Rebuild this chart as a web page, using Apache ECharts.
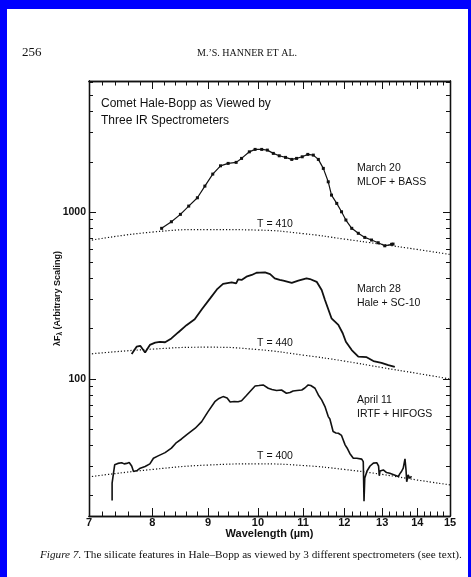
<!DOCTYPE html>
<html>
<head>
<meta charset="utf-8">
<script src="https://cdn.jsdelivr.net/npm/echarts@6/dist/echarts.min.js"></script>
<style>
  html, body { margin: 0; padding: 0; background: #fff; }
  #chart { width: 471px; height: 577px; }
</style>
</head>
<body>
<div id="chart"></div>
<script>
// Wavelength (µm) and lambda*F_lambda (arbitrary scaling) for each spectrum
const wlMarch20 = [8.16, 8.33, 8.49, 8.64, 8.80, 8.94, 9.09, 9.24, 9.39, 9.55, 9.66, 9.82, 9.94, 10.08, 10.20, 10.33, 10.46, 10.60, 10.74, 10.85, 10.98, 11.11, 11.24, 11.36, 11.48, 11.60, 11.68, 11.81, 11.93, 12.04, 12.19, 12.36, 12.53, 12.71, 12.89, 13.07, 13.26, 13.30];
const fluxMarch20 = [799, 875, 969, 1086, 1218, 1431, 1689, 1893, 1957, 1985, 2097, 2296, 2374, 2374, 2351, 2247, 2174, 2126, 2068, 2097, 2144, 2216, 2194, 2068, 1827, 1518, 1264, 1127, 1004, 896, 799, 746, 705, 680, 655, 628, 641, 643];

const wlMarch28 = [7.66, 7.74, 7.80, 7.88, 7.96, 8.05, 8.13, 8.22, 8.33, 8.45, 8.60, 8.75, 8.88, 9.04, 9.17, 9.29, 9.46, 9.55, 9.59, 9.66, 9.76, 9.87, 9.97, 10.04, 10.15, 10.26, 10.36, 10.47, 10.55, 10.74, 10.89, 11.08, 11.16, 11.32, 11.44, 11.52, 11.68, 11.85, 11.96, 12.04, 12.19, 12.36, 12.58, 12.76, 12.98, 13.17, 13.35];
const fluxMarch28 = [141, 156, 158, 144, 160, 165, 167, 166, 175, 190, 210, 228, 261, 304, 344, 371, 379, 374, 395, 392, 410, 420, 433, 434, 435, 425, 401, 392, 388, 376, 388, 401, 397, 382, 341, 297, 231, 211, 188, 167, 149, 136, 135, 128, 125, 121, 118];

const wlApril11 = [7.35, 7.35, 7.37, 7.39, 7.44, 7.50, 7.54, 7.58, 7.62, 7.66, 7.69, 7.72, 7.75, 7.80, 7.88, 7.96, 8.02, 8.10, 8.22, 8.33, 8.42, 8.51, 8.60, 8.76, 8.88, 9.00, 9.13, 9.21, 9.29, 9.37, 9.43, 9.51, 9.59, 9.66, 9.75, 9.83, 9.94, 10.02, 10.11, 10.22, 10.30, 10.40, 10.51, 10.62, 10.70, 10.77, 10.86, 10.97, 11.04, 11.12, 11.18, 11.28, 11.36, 11.44, 11.52, 11.60, 11.64, 11.72, 11.79, 11.85, 11.93, 12.02, 12.07, 12.14, 12.23, 12.32, 12.45, 12.49, 12.51, 12.53, 12.59, 12.67, 12.76, 12.85, 12.90, 12.92, 12.94, 13.03, 13.12, 13.21, 13.30, 13.45, 13.49, 13.54, 13.59, 13.64, 13.67, 13.69, 13.73, 13.78, 13.83];
const fluxApril11 = [18.7, 23.8, 27.0, 30.6, 31.2, 31.5, 31.0, 31.2, 31.6, 30.1, 27.9, 27.6, 28.3, 29.2, 29.9, 31.0, 33.5, 34.6, 36.2, 38.5, 41.6, 43.7, 46.2, 50.7, 55.5, 63.7, 73.1, 76.4, 78.4, 77.0, 72.8, 73.3, 73.1, 74.1, 79.1, 83.9, 90.8, 91.4, 92.1, 88.0, 86.5, 85.3, 85.9, 82.1, 83.0, 84.8, 85.3, 85.9, 88.3, 92.1, 91.4, 88.0, 80.2, 74.9, 68.3, 59.5, 57.6, 48.4, 47.5, 47.3, 45.9, 40.3, 38.6, 35.8, 33.5, 33.5, 33.1, 32.0, 18.5, 25.5, 28.1, 30.1, 31.3, 31.5, 30.1, 26.3, 28.1, 28.5, 27.5, 27.2, 26.8, 26.0, 27.0, 27.9, 29.2, 33.2, 28.5, 24.2, 26.6, 25.4, 26.1];

// Blackbody continua fitted beneath each spectrum
const wlContinuum = [7, 8, 9, 10, 11, 12, 13, 14, 15];
const fluxT410 = [675, 759, 786, 780, 743, 689, 640, 597, 557];
const fluxT440 = [141, 151, 155, 150, 139, 128, 117, 108, 100];
const fluxT400 = [25.9, 28.7, 30.5, 31.0, 30.3, 28.7, 26.8, 24.8, 23.2];

// Axis ticks
const xMajorTicks = [7, 8, 9, 10, 11, 12, 13, 14, 15];
const yMajorTicks = [100, 1000];
const yMinorTicks = [20, 30, 40, 50, 60, 70, 80, 90, 200, 300, 400, 500, 600, 700, 800, 900, 2000, 3000, 4000, 5000, 6000];
const xMinorTicks = [];
for (let i = 36; i < 75; i++) {
  if (i % 5 !== 0) xMinorTicks.push(i / 5);
}

const LOG = Math.log10;
const X_MIN = 7, X_MAX = 15, Y_MIN = 15.1, Y_MAX = 6100;
const INK = '#111';
const SANS = '"Liberation Sans", Arial, Helvetica, sans-serif';
const SERIF = '"Liberation Serif", "Times New Roman", serif';

function pairs(xs, ys) {
  return xs.map((x, i) => [LOG(x), LOG(ys[i])]);
}

function xAxisDef(position, ticks, len, withLabels) {
  const ax = {
    type: 'value', position: position, min: LOG(X_MIN), max: LOG(X_MAX),
    splitLine: { show: false },
    axisLine: { show: true, onZero: false, lineStyle: { color: INK, width: 1.3 } },
    axisTick: { show: true, inside: true, length: len, customValues: ticks.map(LOG),
                lineStyle: { color: INK, width: 1 } },
    axisLabel: { show: false }
  };
  if (withLabels) {
    ax.axisLabel = {
      show: true, customValues: ticks.map(LOG), margin: 1,
      formatter: v => String(Math.round(Math.pow(10, v))),
      color: INK, fontSize: 11, fontWeight: 'bold', fontFamily: SANS
    };
    ax.name = 'Wavelength (µm)';
    ax.nameLocation = 'middle';
    ax.nameGap = 12;
    ax.nameMoveOverlap = false;
    ax.nameTextStyle = { color: INK, fontSize: 11, fontWeight: 'bold', fontFamily: SANS };
  }
  return ax;
}

function yAxisDef(position, ticks, len, withLabels) {
  const ax = {
    type: 'value', position: position, min: LOG(Y_MIN), max: LOG(Y_MAX),
    splitLine: { show: false },
    axisLine: { show: true, onZero: false, lineStyle: { color: INK, width: 1.3 } },
    axisTick: { show: true, inside: true, length: len, customValues: ticks.map(LOG),
                lineStyle: { color: INK, width: 1 } },
    axisLabel: { show: false }
  };
  if (withLabels) {
    ax.axisLabel = {
      show: true, customValues: ticks.map(LOG), margin: 3,
      formatter: v => String(Math.round(Math.pow(10, v))),
      color: INK, fontSize: 10.5, fontWeight: 'bold', fontFamily: SANS
    };
    ax.name = '{a|λF}{s|λ}{a| (Arbitrary Scaling)}';
    ax.nameLocation = 'middle';
    ax.nameGap = 25;
    ax.nameMoveOverlap = false;
    ax.nameTextStyle = {
      color: INK, fontFamily: SANS,
      rich: {
        a: { fontSize: 9, fontWeight: 'bold', fontFamily: SANS, color: INK, lineHeight: 12, verticalAlign: 'middle' },
        s: { fontSize: 6.5, fontWeight: 'bold', fontFamily: SANS, color: INK, lineHeight: 12, verticalAlign: 'bottom' }
      }
    };
  }
  return ax;
}

function spectrum(name, xs, ys, width, markers) {
  return {
    name: name, type: 'line', xAxisIndex: 0, yAxisIndex: 0,
    data: pairs(xs, ys),
    showSymbol: !!markers, symbol: 'rect', symbolSize: 3,
    itemStyle: { color: INK },
    lineStyle: { color: INK, width: width },
    z: 3, silent: true, animation: false
  };
}

function continuum(name, ys) {
  return {
    name: name, type: 'line', xAxisIndex: 0, yAxisIndex: 0,
    data: pairs(wlContinuum, ys), smooth: 0.5, showSymbol: false,
    lineStyle: { color: INK, width: 1.2, type: [1.2, 2] },
    z: 2, silent: true, animation: false
  };
}

function label(text, x, y, size, align, font) {
  return {
    type: 'text', x: x, y: y, silent: true,
    style: {
      text: text, fill: INK, fontSize: size, fontFamily: font || SANS,
      align: align || 'left', verticalAlign: 'middle',
      textAlign: align || 'left', textVerticalAlign: 'middle'
    }
  };
}

const chart = echarts.init(document.getElementById('chart'), null, { renderer: 'canvas' });
chart.setOption({
  animation: false,
  backgroundColor: '#fff',
  grid: { left: 89, right: 21, top: 81, bottom: 61, containLabel: false },
  xAxis: [
    xAxisDef('bottom', xMajorTicks, 8, true),
    xAxisDef('bottom', xMinorTicks, 4.5, false),
    xAxisDef('top', xMajorTicks, 8, false),
    xAxisDef('top', xMinorTicks, 4.5, false)
  ],
  yAxis: [
    yAxisDef('left', yMajorTicks, 7, true),
    yAxisDef('left', yMinorTicks, 4, false),
    yAxisDef('right', yMajorTicks, 7, false),
    yAxisDef('right', yMinorTicks, 4, false)
  ],
  series: [
    continuum('T = 410', fluxT410),
    continuum('T = 440', fluxT440),
    continuum('T = 400', fluxT400),
    spectrum('March 20 MLOF + BASS', wlMarch20, fluxMarch20, 1.2, true),
    spectrum('March 28 Hale + SC-10', wlMarch28, fluxMarch28, 1.8, false),
    spectrum('April 11 IRTF + HIFOGS', wlApril11, fluxApril11, 1.6, false)
  ],
  graphic: [
    // page frame
    { type: 'rect', shape: { x: 0, y: 0, width: 471, height: 9 }, style: { fill: '#0000ff' }, silent: true },
    { type: 'rect', shape: { x: 0, y: 0, width: 7, height: 577 }, style: { fill: '#0000ff' }, silent: true },
    { type: 'rect', shape: { x: 468, y: 0, width: 3, height: 577 }, style: { fill: '#0000ff' }, silent: true },
    // running head
    label('256', 22, 53, 13, 'left', SERIF),
    label('M.\u2019S. HANNER ET AL.', 247, 53, 10, 'center', SERIF),
    // panel title
    label('Comet Hale-Bopp as Viewed by', 101, 104, 12, 'left'),
    label('Three IR Spectrometers', 101, 121, 12, 'left'),
    // spectrum annotations
    label('March 20', 357, 168, 10.5, 'left'),
    label('MLOF + BASS', 357, 182, 10.5, 'left'),
    label('March 28', 357, 289, 10.5, 'left'),
    label('Hale + SC-10', 357, 303, 10.5, 'left'),
    label('April 11', 357, 400, 10.5, 'left'),
    label('IRTF + HIFOGS', 357, 414, 10.5, 'left'),
    label('T = 410', 275, 224, 10.5, 'center'),
    label('T = 440', 275, 343, 10.5, 'center'),
    label('T = 400', 275, 456, 10.5, 'center'),
    // caption
    {
      type: 'text', x: 40, y: 555, silent: true,
      style: {
        text: '{i|Figure 7.} The silicate features in Hale\u2013Bopp as viewed by 3 different spectrometers (see text).',
        fill: INK, fontSize: 11.2, fontFamily: SERIF,
        align: 'left', verticalAlign: 'middle', textAlign: 'left', textVerticalAlign: 'middle',
        rich: { i: { fontStyle: 'italic', fontSize: 11.2, fontFamily: SERIF, fill: INK } }
      }
    }
  ]
});
</script>
</body>
</html>
